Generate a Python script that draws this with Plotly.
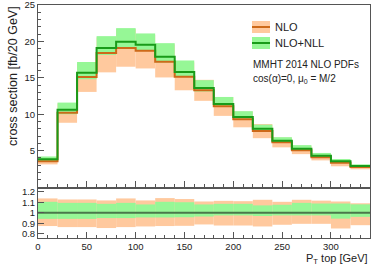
import plotly.graph_objects as go

# ---------------- data ----------------
bin_edges = [0, 20, 40, 60, 80, 100, 120, 140, 160, 180, 200, 220, 240, 260, 280, 300, 320, 340]

# central values [fb/20 GeV]
nlo_central = [3.55, 10.2, 15.1, 18.4, 19.1, 18.7, 17.2, 15.15, 13.3, 11.1, 9.32, 7.7, 6.14, 5.04, 4.08, 3.34, 2.75]
nll_central = [3.8, 10.6, 15.7, 19.1, 19.95, 19.55, 17.9, 15.8, 13.6, 11.4, 9.6, 8.0, 6.36, 5.26, 4.3, 3.53, 2.88]

# relative scale-uncertainty band edges (ratio panel)
nlo_rel_up = [1.136, 1.126, 1.126, 1.117, 1.136, 1.117, 1.139, 1.13, 1.107, 1.113, 1.11, 1.123, 1.104, 1.123, 1.115, 1.107, 1.09]
nlo_rel_dn = [0.875, 0.865, 0.865, 0.856, 0.865, 0.871, 0.875, 0.877, 0.89, 0.88, 0.88, 0.871, 0.887, 0.896, 0.896, 0.852, 0.883]
nll_rel_up = [1.104, 1.094, 1.094, 1.085, 1.094, 1.079, 1.104, 1.10, 1.079, 1.085, 1.085, 1.07, 1.076, 1.094, 1.088, 1.088, 1.08]
nll_rel_dn = [0.943, 0.943, 0.943, 0.95, 0.95, 0.956, 0.956, 0.958, 0.965, 0.975, 0.975, 0.97, 0.975, 0.975, 0.975, 0.945, 0.962]

y_ticks_main = [5, 10, 15, 20, 25]
y_ticks_ratio = [0.8, 0.9, 1.0, 1.1, 1.2]
y_ticktext_ratio = ["0.8", "0.9", "1", "1.1", "1.2"]
x_ticks = [0, 50, 100, 150, 200, 250, 300]

# ---------------- styling ----------------
FONT = "Liberation Sans, Arial, sans-serif"
ORANGE_FILL = "rgb(255,201,158)"
GREEN_FILL = "rgb(150,247,150)"
ORANGE_LINE = "rgb(205,105,25)"
GREEN_LINE = "rgb(25,155,25)"
FRAME = "#555555"
TXT = "#222222"

centers = [(a + b) / 2 for a, b in zip(bin_edges[:-1], bin_edges[1:])]
widths = [b - a for a, b in zip(bin_edges[:-1], bin_edges[1:])]


def band(center, up, dn, color, xa, ya):
    base = [c * d for c, d in zip(center, dn)]
    height = [c * (u - d) for c, u, d in zip(center, up, dn)]
    return go.Bar(x=centers, width=widths, base=base, y=height,
                  marker=dict(color=color, line=dict(width=0)),
                  xaxis=xa, yaxis=ya, showlegend=False, hoverinfo="skip")


def step(values, color, xa, ya, width=2):
    return go.Scatter(x=bin_edges, y=list(values) + [values[-1]], mode="lines",
                      line=dict(shape="hv", color=color, width=width),
                      xaxis=xa, yaxis=ya, showlegend=False, hoverinfo="skip")


fig = go.Figure()
# main panel
fig.add_trace(band(nlo_central, nlo_rel_up, nlo_rel_dn, ORANGE_FILL, "x", "y"))
fig.add_trace(band(nll_central, nll_rel_up, nll_rel_dn, GREEN_FILL, "x", "y"))
fig.add_trace(step(nlo_central, ORANGE_LINE, "x", "y"))
fig.add_trace(step(nll_central, GREEN_LINE, "x", "y"))

# ratio panel (each band relative to its own central value)
ones = [1.0 for _ in nlo_central]
fig.add_trace(band(ones, nlo_rel_up, nlo_rel_dn, ORANGE_FILL, "x2", "y2"))
fig.add_trace(band(ones, nll_rel_up, nll_rel_dn, GREEN_FILL, "x2", "y2"))
fig.add_trace(step(ones, "rgb(75,120,75)", "x2", "y2"))

W, H = 382, 267
ml, mr, mt, mb = 38, 12, 5, 29
plot_w = W - ml - mr
plot_h = H - mt - mb


def py(ypix):
    return (H - mb - ypix) / plot_h


def px(xpix):
    return (xpix - ml) / plot_w


axis_common = dict(showline=True, linecolor=FRAME, linewidth=1, mirror=True,
                   showgrid=False, zeroline=False, ticks="inside", automargin=False,
                   ticklabeloverflow="allow",
                   tickcolor=FRAME, tickfont=dict(family=FONT, size=9.5, color=TXT))

fig.update_layout(
    width=W, height=H,
    margin=dict(l=ml, r=mr, t=mt, b=mb, autoexpand=False),
    paper_bgcolor="white", plot_bgcolor="white",
    barmode="overlay", showlegend=False,
    xaxis=dict(axis_common, domain=[0, 1], range=[0, 340], anchor="y",
               tickvals=x_ticks, showticklabels=False, ticklen=6,
               minor=dict(dtick=10, tick0=0, ticklen=3, ticks="inside", tickcolor=FRAME)),
    yaxis=dict(axis_common, domain=[py(187), 1], range=[0, 25.002], anchor="x",
               tickvals=y_ticks_main, ticklen=6,
               minor=dict(dtick=1, tick0=0, ticklen=3, ticks="inside", tickcolor=FRAME)),
    xaxis2=dict(axis_common, domain=[0, 1], range=[0, 340], anchor="y2",
                tickvals=x_ticks, ticklen=6,
                minor=dict(dtick=10, tick0=0, ticklen=3, ticks="inside", tickcolor=FRAME)),
    yaxis2=dict(axis_common, domain=[0, py(189)], range=[0.762, 1.225], anchor="x2",
                tickvals=y_ticks_ratio, ticktext=y_ticktext_ratio, ticklen=6),
)

annotations = [
    dict(text="cross section [fb/20 GeV]", textangle=-90, x=px(13), y=py(4),
         xanchor="center", yanchor="top", font=dict(family=FONT, size=12.5, color=TXT)),
    dict(text="P<sub>T</sub> top [GeV]", x=1.0, y=py(259), xanchor="right", yanchor="middle",
         font=dict(family=FONT, size=11, color=TXT)),
    dict(text="NLO", x=px(273), y=py(27), xanchor="left", yanchor="middle",
         font=dict(family=FONT, size=11, color=TXT)),
    dict(text="NLO+NLL", x=px(273), y=py(43), xanchor="left", yanchor="middle",
         font=dict(family=FONT, size=11, color=TXT)),
    dict(text="MMHT 2014 NLO PDFs", x=px(251), y=py(64), xanchor="left", yanchor="middle",
         font=dict(family=FONT, size=10, color=TXT)),
    dict(text="cos(α)=0, μ<sub>0</sub> = M/2", x=px(251), y=py(79), xanchor="left", yanchor="middle",
         font=dict(family=FONT, size=10, color=TXT)),
]
for a in annotations:
    a.update(xref="paper", yref="paper", showarrow=False)
fig.update_layout(annotations=annotations)

shapes = [
    dict(type="rect", x0=px(252), x1=px(270), y0=py(33), y1=py(21),
         fillcolor=ORANGE_FILL, line=dict(width=0)),
    dict(type="line", x0=px(252), x1=px(270), y0=py(27), y1=py(27),
         line=dict(color=ORANGE_LINE, width=2)),
    dict(type="rect", x0=px(252), x1=px(270), y0=py(49), y1=py(37),
         fillcolor=GREEN_FILL, line=dict(width=0)),
    dict(type="line", x0=px(252), x1=px(270), y0=py(43), y1=py(43),
         line=dict(color=GREEN_LINE, width=2)),
]
for s in shapes:
    s.update(xref="paper", yref="paper")
fig.update_layout(shapes=shapes)

fig.write_html("out.html", config={"displayModeBar": False},
               post_script="document.body.style.margin='0';document.body.style.overflow='hidden';")
